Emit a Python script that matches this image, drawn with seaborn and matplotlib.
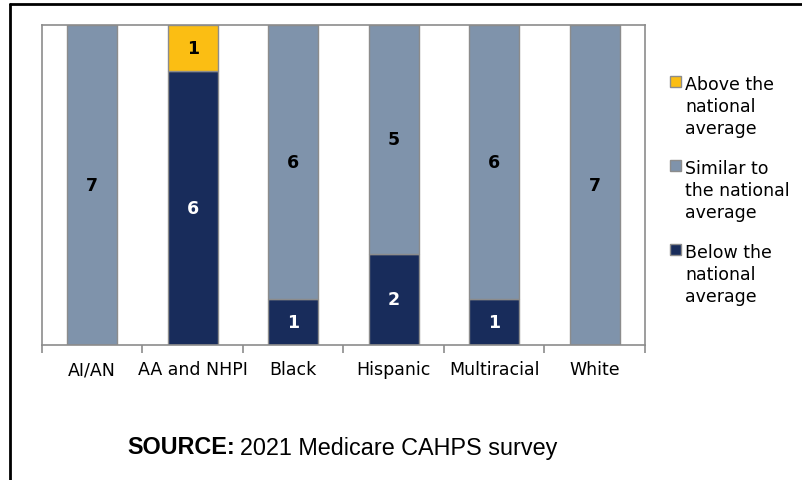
import matplotlib
matplotlib.use("Agg")
import matplotlib.pyplot as plt
import seaborn as sns
import pandas as pd
from matplotlib.patches import Rectangle
from matplotlib.lines import Line2D

# ---- data ----
categories = ["AI/AN", "AA and NHPI", "Black", "Hispanic", "Multiracial", "White"]
below = [0, 6, 1, 2, 1, 0]
similar = [7, 0, 6, 5, 6, 7]
above = [0, 1, 0, 0, 0, 0]
legend_labels = ["Above the\nnational\naverage",
                 "Similar to\nthe national\naverage",
                 "Below the\nnational\naverage"]
source_bold = "SOURCE:"
source_text = "2021 Medicare CAHPS survey"

C_BELOW = "#182c5b"
C_SIM = "#7f93ab"
C_ABOVE = "#fbbe13"
EDGE = "#8c8c8c"

sns.set_style("white")
plt.rcParams["font.family"] = ["DejaVu Sans"]
plt.rcParams["text.color"] = "black"
plt.rcParams["xtick.color"] = "black"
plt.rcParams["xtick.labelcolor"] = "black"

W, H = 803, 481
fig = plt.figure(figsize=(W / 100, H / 100), dpi=100)
ax = fig.add_axes([42 / W, 1 - 346 / H, (645 - 42) / W, (346 - 26) / H])

df = pd.DataFrame({"cat": categories, "below": below, "similar": similar, "above": above})
df["base_sim"] = df["below"]
df["base_above"] = df["below"] + df["similar"]

layers = [
    ("below", None, C_BELOW, "white"),
    ("similar", "base_sim", C_SIM, "black"),
    ("above", "base_above", C_ABOVE, "black"),
]
for col, base, color, tcol in layers:
    sub = df[df[col] > 0]
    kw = {}
    if base is not None:
        kw["bottom"] = sub[base].values
    sns.barplot(data=sub, x="cat", y=col, order=categories, color=color,
                width=0.5, edgecolor=EDGE, linewidth=1, saturation=1,
                ax=ax, **kw)
    ax.bar_label(ax.containers[-1], fmt="%g", label_type="center",
                 color=tcol, fontsize=12.5, fontweight="bold")

ax.set_xlim(-0.5, len(categories) - 0.5)
ax.set_ylim(0, 7)
ax.set_xlabel("")
ax.set_ylabel("")
ax.set_yticks([])
for s in ax.spines.values():
    s.set_visible(True)
    s.set_color(EDGE)
    s.set_linewidth(1.2)

ax.set_xticks(range(len(categories)))
ax.set_xticklabels(categories, fontsize=12.5, color="black")
ax.set_xticks([i - 0.5 for i in range(len(categories) + 1)], minor=True)
ax.tick_params(axis="x", which="major", length=0, pad=11, labelcolor="black")
ax.tick_params(axis="x", which="minor", length=6, width=1.2, color=EDGE, direction="out", bottom=True)

# ---- legend (manual, top-aligned squares) ----
leg_colors = [C_ABOVE, C_SIM, C_BELOW]
leg_tops = [77, 161, 245]
for lab, col, top in zip(legend_labels, leg_colors, leg_tops):
    fig.patches.append(Rectangle((670 / W, 1 - (top + 11) / H), 11 / W, 11 / H,
                                 transform=fig.transFigure, facecolor=col,
                                 edgecolor=EDGE, linewidth=1))
    fig.text(685 / W, 1 - (top - 1) / H, lab, ha="left", va="top",
             fontsize=12.5, linespacing=1.3, color="black")

# ---- source ----
fig.canvas.draw()
r = fig.canvas.get_renderer()
t1 = fig.text(127 / W, 1 - 448 / H, source_bold, ha="left", va="center",
              fontsize=16.8, fontweight="bold", family=["Liberation Sans"], color="black")
bb = t1.get_window_extent(renderer=r)
fig.text((bb.x1 + 5) / W, 1 - 448 / H, source_text, ha="left", va="center",
         fontsize=16.8, family=["Liberation Sans"], color="black")

# ---- outer frame ----
fig.add_artist(Line2D([10.5 / W, 1], [1 - 4.5 / H, 1 - 4.5 / H], color="black", lw=2,
                      transform=fig.transFigure))
fig.add_artist(Line2D([10.5 / W, 10.5 / W], [0, 1 - 4.5 / H], color="black", lw=2,
                      transform=fig.transFigure))

fig.savefig("out.png", dpi=100)
